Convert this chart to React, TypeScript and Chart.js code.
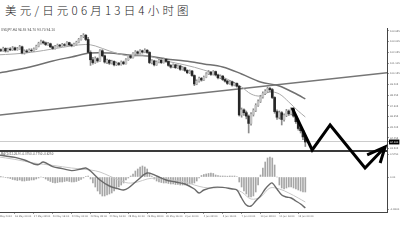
import React, { useEffect, useRef } from 'react';
import { Chart, registerables } from 'chart.js';

Chart.register(...registerables);

const TITLE = '美元/日元06月13日4小时图';
const SYMBOL = 'USDJPY,H4';
const MACD_NAME = 'MACD(12,26,9)';

// 4-hour bars, bar 0 = 14 May 2013 16:00
const FIRST_OPEN = 102.05;
const closes = [
  102.15, 102.30, 102.22, 102.40, 102.18, 102.35, 102.28, 102.45, 102.30, 102.38,
  102.55, 102.00, 102.18, 102.10, 102.25, 102.20, 102.35, 102.60, 102.85, 103.00,
  102.90, 102.75, 102.82, 102.55, 102.40, 102.58, 102.70, 102.62, 102.75, 102.68,
  102.92, 102.72, 102.65, 102.78, 102.95, 103.20, 103.45, 103.58, 103.20, 102.05,
  101.40, 101.15, 101.50, 101.30, 102.20, 101.75, 101.20, 101.35, 101.10, 101.25,
  100.95, 101.10, 100.98, 101.20, 101.05, 101.40, 101.75, 101.60, 101.95, 102.10,
  101.98, 102.20, 102.08, 102.25, 102.05, 101.15, 101.30, 100.95, 101.20, 101.35,
  101.15, 101.45, 101.25, 100.90, 100.75, 100.95, 100.70, 100.85, 100.55, 100.70,
  100.45, 100.25, 100.40, 100.00, 99.25, 99.50, 99.75, 99.60, 99.85, 100.15,
  100.30, 100.10, 100.35, 100.05, 99.80, 99.95, 99.65, 99.50, 99.30, 99.45,
  99.15, 99.30, 99.05, 96.50, 96.95, 96.70, 96.40, 95.75, 96.55, 96.90,
  97.35, 97.70, 98.10, 98.40, 98.60, 98.85, 98.75, 98.05, 96.80, 96.30,
  96.70, 96.10, 96.45, 96.85, 96.60, 97.05, 96.40, 95.90, 95.30, 95.10,
  94.55, 94.10,
];
const highs = [
  102.30, 102.42, 102.38, 102.52, 102.46, 102.44, 102.48, 102.58, 102.52, 102.50,
  102.68, 102.62, 102.28, 102.30, 102.36, 102.38, 102.45, 102.70, 102.96, 103.14,
  103.10, 102.98, 102.94, 102.88, 102.62, 102.68, 102.80, 102.78, 102.86, 102.84,
  103.02, 102.96, 102.80, 102.88, 103.05, 103.30, 103.56, 103.72, 103.64, 103.40,
  102.20, 101.62, 101.66, 101.58, 102.30, 102.30, 101.82, 101.46, 101.42, 101.36,
  101.30, 101.20, 101.18, 101.30, 101.28, 101.50, 101.86, 101.82, 102.04, 102.22,
  102.18, 102.30, 102.26, 102.38, 102.30, 102.12, 101.42, 101.36, 101.30, 101.46,
  101.42, 101.55, 101.50, 101.30, 100.98, 101.05, 101.00, 100.95, 100.90, 100.80,
  100.76, 100.52, 100.50, 100.46, 100.06, 99.62, 99.86, 99.84, 99.96, 100.26,
  100.45, 100.38, 100.44, 100.40, 100.12, 100.06, 100.00, 99.72, 99.58, 99.55,
  99.50, 99.40, 99.36, 99.12, 97.12, 97.05, 96.85, 96.50, 96.70, 97.05,
  97.50, 97.85, 98.25, 98.55, 98.75, 98.98, 98.95, 98.85, 98.12, 96.95,
  96.85, 96.80, 96.60, 97.00, 96.95, 97.15, 97.10, 96.50, 96.00, 95.45,
  95.20, 94.70,
];
const lows = [
  101.98, 102.08, 102.12, 102.15, 102.08, 102.10, 102.20, 102.22, 102.21, 102.24,
  102.32, 101.92, 101.90, 102.02, 102.04, 102.12, 102.14, 102.30, 102.54, 102.78,
  102.80, 102.66, 102.68, 102.48, 102.32, 102.35, 102.52, 102.55, 102.58, 102.60,
  102.64, 102.65, 102.55, 102.60, 102.72, 102.90, 103.15, 103.36, 103.10, 101.95,
  100.90, 101.00, 101.08, 101.18, 101.25, 101.66, 101.10, 101.05, 100.98, 101.02,
  100.86, 100.88, 100.90, 100.92, 100.96, 101.00, 101.34, 101.50, 101.55, 101.88,
  101.90, 101.92, 101.98, 102.02, 101.96, 101.05, 101.02, 100.85, 100.90, 101.12,
  101.06, 101.10, 101.16, 100.82, 100.66, 100.70, 100.62, 100.64, 100.46, 100.48,
  100.36, 100.16, 100.18, 99.92, 99.10, 99.18, 99.42, 99.50, 99.55, 99.80,
  100.08, 100.02, 100.04, 99.96, 99.70, 99.72, 99.56, 99.40, 99.20, 99.22,
  99.06, 99.08, 98.96, 96.40, 96.30, 96.45, 96.15, 94.90, 95.60, 96.40,
  96.80, 97.25, 97.60, 98.00, 98.30, 98.50, 98.55, 97.95, 96.65, 96.10,
  96.15, 95.61, 95.95, 96.35, 96.45, 96.50, 96.30, 95.75, 95.15, 94.90,
  94.30, 93.70,
];

// moving averages, sampled at bar positions
const slowMaBars = [0, 8, 16, 24, 32, 40, 48, 56, 64, 72, 80, 88, 96, 104, 112, 120, 128, 131];
const slowMaValues = [100.18, 100.49, 100.85, 101.29, 101.65, 102.0, 102.0, 101.83, 101.74, 101.47, 101.29, 101.03, 100.76, 100.14, 99.43, 99.07, 98.27, 97.92];
const fastMaBars = [0, 8, 16, 24, 32, 38, 42, 48, 56, 64, 72, 80, 88, 96, 104, 108, 112, 116, 120, 124, 128, 131];
const fastMaValues = [101.83, 101.92, 102.09, 102.36, 102.63, 102.76, 102.63, 102.18, 101.74, 101.74, 101.29, 100.94, 100.49, 99.87, 98.98, 98.36, 98.18, 98.54, 98.36, 97.65, 96.85, 96.32];

// rising trend line
const trendBars = [0, 166];
const trendValues = [96.46, 100.26];

// hand-drawn forecast path and its arrow head
const forecastBars = [125.4, 133.9, 141.5, 156.3, 164.8];
const forecastValues = [97.12, 93.39, 95.61, 91.79, 93.66];
const arrowHeadBars = [157.2, 164.8, 162.7];
const arrowHeadValues = [92.95, 93.66, 92.23];

// MACD histogram per bar
const macdHist = [
  0.012, 0.008, 0.005, 0, -0.012, -0.025, -0.038, -0.062, -0.075, -0.088,
  -0.075, -0.1, -0.1, -0.088, -0.088, -0.075, -0.075, -0.05, -0.025, 0,
  -0.012, -0.05, -0.088, -0.112, -0.138, -0.15, -0.138, -0.125, -0.125, -0.112,
  -0.1, -0.112, -0.125, -0.125, -0.112, -0.088, -0.062, -0.025, 0.012, 0.025,
  -0.05, -0.15, -0.25, -0.35, -0.425, -0.475, -0.475, -0.45, -0.425, -0.4,
  -0.35, -0.3, -0.25, -0.2, -0.15, -0.075, -0.025, 0.025, 0.075, 0.15,
  0.2, 0.25, 0.275, 0.25, 0.2, 0.1, 0.025, -0.05, -0.1, -0.125,
  -0.138, -0.15, -0.15, -0.162, -0.175, -0.175, -0.188, -0.188, -0.2, -0.2,
  -0.2, -0.188, -0.175, -0.162, -0.15, -0.1, -0.025, 0.038, 0.062, 0.075,
  0.088, 0.1, 0.088, 0.05, 0.038, 0.025, 0.025, 0.02, 0.02, 0.025,
  0.02, 0.025, 0.012, -0.125, -0.25, -0.35, -0.425, -0.5, -0.5, -0.475,
  -0.375, -0.2, 0.05, 0.225, 0.375, 0.475, 0.5, 0.475, 0.3, 0,
  -0.2, -0.275, -0.3, -0.275, -0.25, -0.25, -0.275, -0.3, -0.325, -0.35,
  -0.375, -0.375,
];
const macdMainBars = [0, 4, 8, 12, 16, 18, 20, 24, 28, 32, 36, 38, 40, 44, 48, 52, 54, 56, 60, 64, 68, 72, 76, 80, 84, 86, 88, 92, 96, 100, 102, 104, 106, 108, 110, 112, 114, 116, 117, 119, 121, 123, 125, 127, 129, 131];
const macdMainValues = [0.56, 0.525, 0.49, 0.425, 0.325, 0.31, 0.375, 0.26, 0.21, 0.16, 0.2, 0.225, 0.15, -0.075, -0.225, -0.3, -0.325, -0.275, -0.075, 0.1, 0.025, -0.075, -0.125, -0.175, -0.3, -0.4, -0.325, -0.26, -0.26, -0.3, -0.325, -0.525, -0.7, -0.725, -0.6, -0.475, -0.3, -0.175, -0.15, -0.3, -0.45, -0.5, -0.525, -0.6, -0.675, -0.775];
const macdSignalBars = [0, 8, 16, 24, 32, 40, 44, 48, 52, 56, 60, 64, 68, 72, 76, 80, 84, 88, 92, 96, 100, 104, 108, 112, 116, 120, 124, 128, 131];
const macdSignalValues = [0.51, 0.44, 0.35, 0.29, 0.225, 0.175, 0.125, 0.025, -0.075, -0.15, -0.125, -0.05, -0.025, -0.05, -0.09, -0.125, -0.2, -0.26, -0.275, -0.26, -0.29, -0.375, -0.55, -0.5, -0.275, -0.3, -0.4, -0.525, -0.625];

// axes
const timeTickBars = [0, 8, 16, 24, 32, 40, 48, 56, 64, 72, 80, 88, 96, 104, 112, 120, 128];
const timeTickLabels = [
  '14 May 2013', '16 May 00:00', '17 May 08:00', '20 May 16:00', '22 May 00:00', '23 May 08:00',
  '24 May 16:00', '28 May 00:00', '29 May 08:00', '30 May 16:00', '3 Jun 00:00', '4 Jun 08:00',
  '5 Jun 16:00', '7 Jun 00:00', '10 Jun 08:00', '11 Jun 16:00', '13 Jun 00:00',
];
const priceTicks = [103.955, 103.005, 102.055, 101.105, 100.155, 99.205, 98.255, 97.305, 96.355, 95.405, 94.455, 93.505];
const macdTicks = [0.575, 0, -0.8];
const PRICE_MIN = 93.3;
const PRICE_MAX = 104.22;
const MACD_MIN = -0.875;
const MACD_MAX = 0.65;
const BAR_MIN = 1.65;
const BAR_MAX = 165.6;

const opens = closes.map((c, i) => (i === 0 ? FIRST_OPEN : closes[i - 1]));
const last = closes.length - 1;
const lastClose = closes[last];

const pts = (xs: number[], ys: number[]) => xs.map((x, i) => ({ x, y: ys[i] }));

const tickFont = { family: 'DejaVu Sans', size: 2.4 };

export default function App() {
  const canvasRef = useRef<HTMLCanvasElement>(null);

  useEffect(() => {
    const canvas = canvasRef.current;
    if (!canvas) return;

    const wicks = closes.map((_, i) => ({ x: i, y: [lows[i], highs[i]] }));
    const bodies = closes.map((c, i) => ({ x: i, y: [opens[i], c] }));
    const bodyColors = closes.map((c, i) => (c >= opens[i] ? '#c2c2c2' : '#262626'));
    const hist = macdHist.map((v, i) => ({ x: i, y: v }));

    const chart = new Chart(canvas, {
      type: 'bar',
      data: {
        datasets: [
          {
            type: 'line',
            data: pts(forecastBars, forecastValues),
            yAxisID: 'y',
            borderColor: '#000',
            borderWidth: 3,
            pointRadius: 0,
            tension: 0,
            borderJoinStyle: 'miter',
            clip: false,
            order: 0,
          },
          {
            type: 'line',
            data: pts(arrowHeadBars, arrowHeadValues),
            yAxisID: 'y',
            borderColor: '#000',
            borderWidth: 3,
            pointRadius: 0,
            tension: 0,
            borderJoinStyle: 'miter',
            clip: false,
            order: 0,
          },
          {
            type: 'bar',
            data: bodies as any,
            yAxisID: 'y',
            backgroundColor: bodyColors,
            barThickness: 2,
            grouped: false,
            order: 2,
          },
          {
            type: 'bar',
            data: wicks as any,
            yAxisID: 'y',
            backgroundColor: '#8c8c8c',
            barThickness: 1,
            grouped: false,
            order: 3,
          },
          {
            type: 'line',
            data: pts(fastMaBars, fastMaValues),
            yAxisID: 'y',
            borderColor: '#a9a9a9',
            borderWidth: 1,
            pointRadius: 0,
            tension: 0.35,
            order: 4,
          },
          {
            type: 'line',
            data: pts(slowMaBars, slowMaValues),
            yAxisID: 'y',
            borderColor: '#707070',
            borderWidth: 1.5,
            pointRadius: 0,
            tension: 0.35,
            order: 4,
          },
          {
            type: 'line',
            data: pts(trendBars, trendValues),
            yAxisID: 'y',
            borderColor: '#767676',
            borderWidth: 1.5,
            pointRadius: 0,
            order: 5,
          },
          {
            type: 'bar',
            data: hist as any,
            yAxisID: 'y2',
            backgroundColor: '#a6a6a6',
            barThickness: 1,
            grouped: false,
            order: 6,
          },
          {
            type: 'line',
            data: pts(macdMainBars, macdMainValues),
            yAxisID: 'y2',
            borderColor: '#6a6a6a',
            borderWidth: 1.4,
            pointRadius: 0,
            tension: 0.35,
            order: 5,
          },
          {
            type: 'line',
            data: pts(macdSignalBars, macdSignalValues),
            yAxisID: 'y2',
            borderColor: '#c8c8c8',
            borderWidth: 1,
            pointRadius: 0,
            tension: 0.35,
            order: 5,
          },
        ] as any,
      },
      options: {
        animation: false,
        responsive: false,
        devicePixelRatio: 1,
        layout: { padding: { top: 4, left: 0, right: 0, bottom: 0 } },
        plugins: { legend: { display: false }, tooltip: { enabled: false }, title: { display: false } },
        events: [],
        scales: {
          x: {
            type: 'linear',
            min: BAR_MIN,
            max: BAR_MAX,
            offset: false,
            afterBuildTicks: (s: any) => {
              s.ticks = timeTickBars.map((v) => ({ value: v }));
            },
            afterFit: (s: any) => {
              s.height = 32;
              s.paddingLeft = 0;
              s.paddingRight = 0;
            },
            ticks: {
              autoSkip: false,
              maxRotation: 0,
              minRotation: 0,
              align: 'start',
              padding: 1,
              font: tickFont,
              color: '#666',
              callback: (_v: any, i: number) => timeTickLabels[i],
            },
            grid: { offset: false, drawOnChartArea: false, drawTicks: true, tickLength: 2, tickColor: '#999' },
            border: { display: true, color: '#444', width: 1 },
          },
          y: {
            type: 'linear',
            position: 'right',
            stack: 'panes',
            stackWeight: 123,
            min: PRICE_MIN,
            max: PRICE_MAX,
            afterBuildTicks: (s: any) => {
              s.ticks = [PRICE_MIN, ...priceTicks, lastClose].map((v) => ({ value: v }));
            },
            afterFit: (s: any) => {
              s.width = 13;
              s.paddingTop = 0;
              s.paddingBottom = 0;
            },
            ticks: {
              autoSkip: false,
              padding: 1,
              font: tickFont,
              color: (c: any) => (c.tick && c.tick.value === lastClose ? '#fff' : '#666'),
              showLabelBackdrop: (c: any) => !!(c.tick && c.tick.value === lastClose),
              backdropColor: '#000',
              backdropPadding: { top: 1, bottom: 1, left: 1, right: 1 },
              callback: (v: any) => (v === PRICE_MIN ? '' : Number(v).toFixed(3)),
            },
            grid: {
              drawOnChartArea: true,
              tickLength: 2,
              color: (c: any) => {
                const v = c.tick && c.tick.value;
                if (v === PRICE_MIN) return '#3a3a3a';
                if (v === lastClose) return '#cccccc';
                return 'rgba(0,0,0,0)';
              },
              lineWidth: (c: any) => (c.tick && c.tick.value === PRICE_MIN ? 2 : 1),
              tickColor: (c: any) => (c.tick && c.tick.value === PRICE_MIN ? 'rgba(0,0,0,0)' : '#999'),
            },
            border: { display: true, color: '#444', width: 1 },
          },
          y2: {
            type: 'linear',
            position: 'right',
            stack: 'panes',
            stackWeight: 61,
            min: MACD_MIN,
            max: MACD_MAX,
            afterBuildTicks: (s: any) => {
              s.ticks = macdTicks.map((v) => ({ value: v }));
            },
            afterFit: (s: any) => {
              s.width = 13;
              s.paddingTop = 0;
              s.paddingBottom = 0;
            },
            ticks: {
              autoSkip: false,
              padding: 1,
              font: tickFont,
              color: '#666',
              callback: (v: any) => (v === 0 ? '0.00' : Number(v).toFixed(4)),
            },
            grid: { drawOnChartArea: false, tickLength: 2, tickColor: '#999' },
            border: { display: true, color: '#444', width: 1 },
          },
        },
      } as any,
    });

    return () => chart.destroy();
  }, []);

  const priceHeader = `${SYMBOL}  ${opens[last].toFixed(2)} ${highs[last].toFixed(2)} ${lows[last].toFixed(2)} ${lastClose.toFixed(2)}`;
  const macdHeader = `${MACD_NAME} ${macdHist[last].toFixed(4)} ${macdMainValues[macdMainValues.length - 1].toFixed(4)} ${macdSignalValues[macdSignalValues.length - 1].toFixed(4)}`;

  const tiny: React.CSSProperties = {
    position: 'absolute',
    left: 1,
    fontFamily: 'DejaVu Sans, sans-serif',
    fontSize: 10,
    lineHeight: '10px',
    color: '#555',
    whiteSpace: 'nowrap',
    transformOrigin: '0 0',
  };

  return (
    <div style={{ position: 'absolute', left: 0, top: 0, width: 400, height: 244, background: '#fff', overflow: 'hidden' }}>
      <div
        style={{
          position: 'absolute',
          left: 5,
          top: 3,
          fontFamily: '"Noto Sans CJK SC", sans-serif',
          fontWeight: 300,
          fontSize: 11.5,
          lineHeight: '14px',
          letterSpacing: 3.2,
          color: '#222',
          whiteSpace: 'nowrap',
        }}
      >
        {TITLE}
      </div>
      <canvas
        ref={canvasRef}
        width={400}
        height={220}
        style={{ position: 'absolute', left: 0, top: 24, width: 400, height: 220 }}
      />
      <div style={{ ...tiny, top: 29, transform: 'scale(0.3)' }}>{priceHeader}</div>
      <div style={{ ...tiny, top: 152.5, transform: 'scale(0.26)' }}>{macdHeader}</div>
    </div>
  );
}
